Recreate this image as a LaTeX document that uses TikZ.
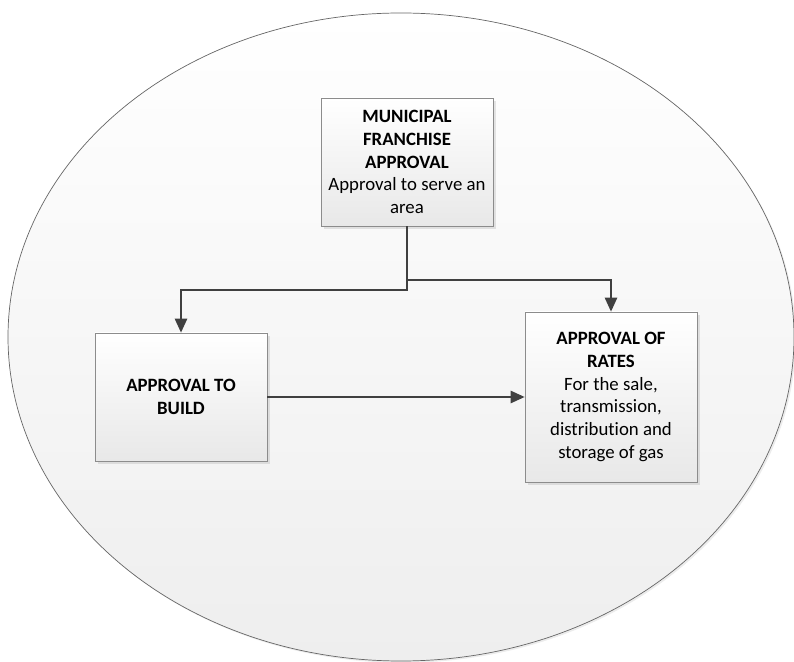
\documentclass[tikz,border=0pt]{standalone}
\usepackage{fontspec}
\setmainfont[Ligatures={NoCommon}]{Carlito}
\usepackage{tikz}
\usetikzlibrary{arrows.meta, positioning, shadows}
\definecolor{boxline}{RGB}{140, 140, 140}
\definecolor{boxlow}{RGB}{232, 232, 232}
\definecolor{linkgray}{RGB}{64, 64, 64}
\definecolor{ovallow}{RGB}{238, 238, 238}

\begin{document}
\begin{tikzpicture}
    % Styles
    \tikzstyle{block} = [rectangle, draw=boxline, top color=white, bottom color=boxlow,
        minimum width=3.44cm, align=center, font=\fontsize{10.7}{13}\selectfont,
        drop shadow={opacity=0.2, shadow xshift=1.5pt, shadow yshift=-1.5pt}]
    \tikzstyle{arrow} = [line width=1.1pt, linkgray, -{Triangle[length=8pt, width=7pt]}]

    \useasboundingbox (0,0) rectangle (15.88,13.22);

    % Background oval
    \draw [gray!80!black, top color=white, bottom color=ovallow,
        drop shadow={opacity=0.15, shadow xshift=1pt, shadow yshift=-1pt}]
        (8.02,6.48) ellipse (7.86cm and 6.48cm);

    % Nodes
    \node [block, minimum height=2.56cm] (franchise) at (8.14,9.98)
        {\textbf{MUNICIPAL}\\\textbf{FRANCHISE}\\\textbf{APPROVAL}\\Approval to serve an\\area};
    \node [block, minimum height=2.56cm] (build) at (3.62,5.28)
        {\textbf{APPROVAL TO}\\\textbf{BUILD}};
    \node [block, minimum height=3.4cm] (rates) at (12.22,5.28)
        {\textbf{APPROVAL OF}\\\textbf{RATES}\\For the sale,\\transmission,\\distribution and\\storage of gas};

    % Arrows
    \draw [arrow] (franchise.south) -- ++(0,-1.28) -| (build.north);
    \draw [arrow] (franchise.south) -- ++(0,-1.08) -| (rates.north);
    \draw [arrow] (build.east) -- (rates.west);
\end{tikzpicture}
\end{document}
